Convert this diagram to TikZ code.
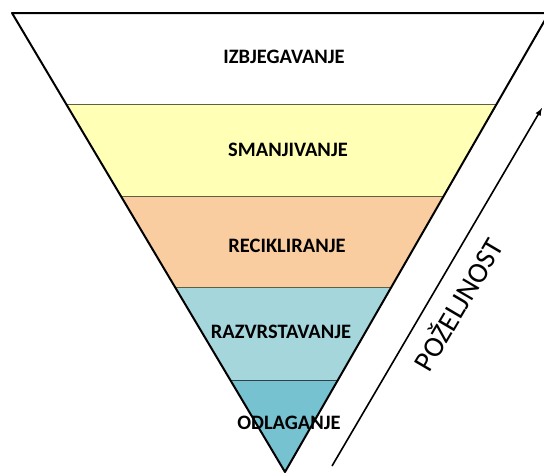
\documentclass[tikz,border=0pt]{standalone}
\usepackage{fontspec}
\setmainfont{Carlito}
\definecolor{bandyellow}{RGB}{255,255,182}
\definecolor{bandorange}{RGB}{250,205,160}
\definecolor{bandblue}{RGB}{165,214,220}
\definecolor{banddeep}{RGB}{118,194,208}
\definecolor{bandline}{RGB}{95,95,70}
\tikzset{
  bandlabel/.style={font=\bfseries\fontsize{20.5}{22}\selectfont},
  divider/.style={draw=bandline, line width=1pt}
}
\begin{document}
\begin{tikzpicture}[x=1pt, y=-1pt]
    \useasboundingbox (0,0) rectangle (544,475);
    \coordinate (tl) at (12,13);
    \coordinate (tr) at (549,13);
    \coordinate (apex) at (285,472);

    \begin{scope}
        \clip (tl) -- (tr) -- (apex) -- cycle;
        \fill[bandyellow] (0,104) rectangle (560,196);
        \fill[bandorange] (0,196) rectangle (560,287);
        \fill[bandblue] (0,287) rectangle (560,380);
        \fill[banddeep] (0,380) rectangle (560,475);
        \draw[divider] (0,104) -- (560,104);
        \draw[divider] (0,196) -- (560,196);
        \draw[divider] (0,287) -- (560,287);
        \draw[divider, draw=black!70!bandblue] (0,380) -- (560,380);
    \end{scope}
    \draw[line width=2pt, line join=round] (tl) -- (tr) -- (apex) -- cycle;

    \node[bandlabel] (avoid) at (284,57) {IZBJEGAVANJE};
    \node[bandlabel] (reduce) at (288,150) {SMANJIVANJE};
    \node[bandlabel] (recycle) at (287,246) {RECIKLIRANJE};
    \node[bandlabel] (sort) at (281,332) {RAZVRSTAVANJE};
    \node[bandlabel] (dispose) at (289,423) {ODLAGANJE};

    \coordinate (arrowstart) at (332,466);
    \coordinate (arrowend) at (542,108);
    \draw[->, >=latex, line width=1.6pt] (arrowstart) -- (arrowend);
    \node[rotate=59.5, inner sep=0pt, font=\fontsize{29}{30}\selectfont] (desire) at (457,304) {POŽELJNOST};
\end{tikzpicture}
\end{document}
